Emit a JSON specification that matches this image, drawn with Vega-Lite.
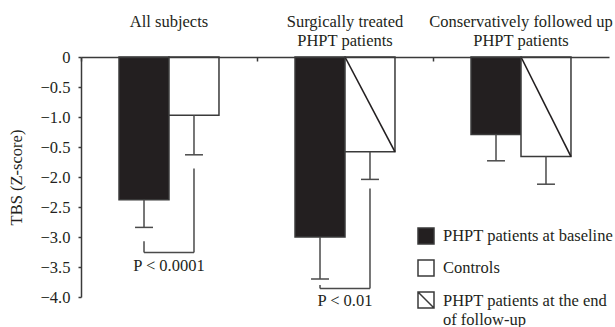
{
  "$schema": "https://vega.github.io/schema/vega-lite/v6.json",
  "width": 528,
  "height": 240,
  "autosize": {"type": "none"},
  "padding": {"left": 81, "top": 57, "right": 6, "bottom": 30},
  "background": "white",
  "config": {
    "view": {"stroke": null},
    "font": "Liberation Serif",
    "legend": {
      "orient": "none",
      "legendX": 336,
      "legendY": 170,
      "labelFont": "Liberation Serif",
      "labelFontSize": 16.5,
      "labelColor": "#231f20",
      "labelLimit": 400,
      "labelOffset": 8,
      "labelLineHeight": 17,
      "symbolStrokeColor": "#3a3a3a",
      "symbolStrokeWidth": 1.5,
      "symbolSize": 256,
      "rowPadding": 10
    }
  },
  "datasets": {
    "bars": [
      {"group": "All subjects", "series": "PHPT patients at baseline", "value": -2.38, "err": -2.84},
      {"group": "All subjects", "series": "Controls", "value": -0.97, "err": -1.63},
      {"group": "Surgically treated PHPT patients", "series": "PHPT patients at baseline", "value": -3.0, "err": -3.7},
      {"group": "Surgically treated PHPT patients", "series": "PHPT patients at the end of follow-up", "value": -1.58, "err": -2.04},
      {"group": "Conservatively followed up PHPT patients", "series": "PHPT patients at baseline", "value": -1.29, "err": -1.73},
      {"group": "Conservatively followed up PHPT patients", "series": "PHPT patients at the end of follow-up", "value": -1.66, "err": -2.12}
    ],
    "brackets": [
      {"group": "All subjects", "left_top": -3.07, "right_top": -1.86, "bottom": -3.26, "label": "P < 0.0001", "label_y": -3.48},
      {"group": "Surgically treated PHPT patients", "left_top": -3.8, "right_top": -2.19, "bottom": -3.86, "label": "P < 0.01", "label_y": -4.07}
    ]
  },
  "layer": [
    {
      "data": {"name": "bars"},
      "transform": [{"filter": "datum.series == 'PHPT patients at baseline'"}],
      "mark": {"type": "rect", "stroke": "#3a3a3a", "strokeWidth": 1.5},
      "encoding": {
        "x": {
          "field": "group", "type": "nominal", "bandPosition": 0.216,
          "scale": {"domain": ["All subjects", "Surgically treated PHPT patients", "Conservatively followed up PHPT patients"], "paddingInner": 0, "paddingOuter": 0},
          "axis": {
            "orient": "top", "title": null, "bandPosition": 0,
            "domainColor": "#3a3a3a", "domainWidth": 1.5,
            "tickColor": "#3a3a3a", "tickWidth": 1.5, "tickSize": -4,
            "labelFont": "Liberation Serif", "labelFontSize": 16.5, "labelColor": "#231f20",
            "labelAngle": 0, "labelBaseline": "top", "labelPadding": 48, "labelLineHeight": 19,
            "labelLimit": 400, "labelOverlap": false,
            "labelExpr": "datum.value == 'Surgically treated PHPT patients' ? ['Surgically treated', 'PHPT patients'] : datum.value == 'Conservatively followed up PHPT patients' ? ['Conservatively followed up', 'PHPT patients'] : datum.value"
          }
        },
        "x2": {"field": "group", "bandPosition": 0.5},
        "y": {
          "field": "value", "type": "quantitative",
          "scale": {"domain": [-4, 0], "nice": false},
          "axis": {
            "orient": "left", "title": "TBS (Z-score)", "grid": false,
            "values": [0, -0.5, -1, -1.5, -2, -2.5, -3, -3.5, -4],
            "tickCount": 12,
            "labelOverlap": false,
            "labelExpr": "datum.value == 0 ? '0' : datum.value == -1.5 ? '−0.5' : format(datum.value, '.1f')",
            "domainColor": "#3a3a3a", "domainWidth": 1.5,
            "tickColor": "#3a3a3a", "tickWidth": 1.5, "tickSize": 3,
            "labelFont": "Liberation Serif", "labelFontSize": 16.5, "labelColor": "#231f20",
            "labelPadding": 8,
            "titleFont": "Liberation Serif", "titleFontSize": 16.5, "titleFontWeight": "normal", "titleColor": "#231f20",
            "titlePadding": 16
          }
        },
        "y2": {"datum": 0},
        "fill": {
          "field": "series", "type": "nominal",
          "scale": {"domain": ["PHPT patients at baseline", "Controls", "PHPT patients at the end of follow-up"], "range": ["#231f20", "#ffffff", "#ffffff"]},
          "legend": {
            "title": null,
            "labelExpr": "datum.label == 'PHPT patients at the end of follow-up' ? ['PHPT patients at the end', 'of follow-up'] : datum.label",
            "encode": {"labels": {"update": {
              "baseline": {"signal": "datum.value == 'PHPT patients at the end of follow-up' ? 'top' : 'middle'"},
              "dy": {"signal": "datum.value == 'PHPT patients at the end of follow-up' ? -7 : 0"}
            }}}
          }
        }
      }
    },
    {
      "data": {"name": "bars"},
      "transform": [{"filter": "datum.series != 'PHPT patients at baseline'"}],
      "mark": {"type": "rect", "stroke": "#3a3a3a", "strokeWidth": 1.5},
      "encoding": {
        "x": {"field": "group", "type": "nominal", "bandPosition": 0.5, "scale": {"domain": ["All subjects", "Surgically treated PHPT patients", "Conservatively followed up PHPT patients"], "paddingInner": 0, "paddingOuter": 0}},
        "x2": {"field": "group", "bandPosition": 0.784},
        "y": {"field": "value", "type": "quantitative", "scale": {"domain": [-4, 0], "nice": false}},
        "y2": {"datum": 0},
        "fill": {
          "field": "series", "type": "nominal",
          "scale": {"domain": ["PHPT patients at baseline", "Controls", "PHPT patients at the end of follow-up"], "range": ["#231f20", "#ffffff", "#ffffff"]}
        }
      }
    },
    {
      "data": {"name": "bars"},
      "transform": [{"filter": "datum.series == 'PHPT patients at the end of follow-up'"}],
      "mark": {"type": "rule", "color": "#231f20", "strokeWidth": 1.6},
      "encoding": {
        "x": {"field": "group", "type": "nominal", "bandPosition": 0.784, "scale": {"domain": ["All subjects", "Surgically treated PHPT patients", "Conservatively followed up PHPT patients"], "paddingInner": 0, "paddingOuter": 0}},
        "x2": {"field": "group", "bandPosition": 0.5},
        "y": {"field": "value", "type": "quantitative", "scale": {"domain": [-4, 0], "nice": false}},
        "y2": {"datum": 0}
      }
    },
    {
      "data": {"name": "bars"},
      "transform": [{"filter": "datum.series == 'PHPT patients at baseline'"}],
      "mark": {"type": "rule", "color": "#4a4a4a", "strokeWidth": 1.5},
      "encoding": {
        "x": {"field": "group", "type": "nominal", "bandPosition": 0.358, "scale": {"domain": ["All subjects", "Surgically treated PHPT patients", "Conservatively followed up PHPT patients"], "paddingInner": 0, "paddingOuter": 0}},
        "y": {"field": "value", "type": "quantitative", "scale": {"domain": [-4, 0], "nice": false}},
        "y2": {"field": "err"}
      }
    },
    {
      "data": {"name": "bars"},
      "transform": [{"filter": "datum.series != 'PHPT patients at baseline'"}],
      "mark": {"type": "rule", "color": "#4a4a4a", "strokeWidth": 1.5},
      "encoding": {
        "x": {"field": "group", "type": "nominal", "bandPosition": 0.642, "scale": {"domain": ["All subjects", "Surgically treated PHPT patients", "Conservatively followed up PHPT patients"], "paddingInner": 0, "paddingOuter": 0}},
        "y": {"field": "value", "type": "quantitative", "scale": {"domain": [-4, 0], "nice": false}},
        "y2": {"field": "err"}
      }
    },
    {
      "data": {"name": "bars"},
      "transform": [{"filter": "datum.series == 'PHPT patients at baseline'"}],
      "mark": {"type": "rule", "color": "#4a4a4a", "strokeWidth": 1.5},
      "encoding": {
        "x": {"field": "group", "type": "nominal", "bandPosition": 0.307, "scale": {"domain": ["All subjects", "Surgically treated PHPT patients", "Conservatively followed up PHPT patients"], "paddingInner": 0, "paddingOuter": 0}},
        "x2": {"field": "group", "bandPosition": 0.409},
        "y": {"field": "err", "type": "quantitative", "scale": {"domain": [-4, 0], "nice": false}}
      }
    },
    {
      "data": {"name": "bars"},
      "transform": [{"filter": "datum.series != 'PHPT patients at baseline'"}],
      "mark": {"type": "rule", "color": "#4a4a4a", "strokeWidth": 1.5},
      "encoding": {
        "x": {"field": "group", "type": "nominal", "bandPosition": 0.591, "scale": {"domain": ["All subjects", "Surgically treated PHPT patients", "Conservatively followed up PHPT patients"], "paddingInner": 0, "paddingOuter": 0}},
        "x2": {"field": "group", "bandPosition": 0.693},
        "y": {"field": "err", "type": "quantitative", "scale": {"domain": [-4, 0], "nice": false}}
      }
    },
    {
      "data": {"name": "brackets"},
      "mark": {"type": "rule", "color": "#4a4a4a", "strokeWidth": 1.5},
      "encoding": {
        "x": {"field": "group", "type": "nominal", "bandPosition": 0.358, "scale": {"domain": ["All subjects", "Surgically treated PHPT patients", "Conservatively followed up PHPT patients"], "paddingInner": 0, "paddingOuter": 0}},
        "y": {"field": "left_top", "type": "quantitative", "scale": {"domain": [-4, 0], "nice": false}},
        "y2": {"field": "bottom"}
      }
    },
    {
      "data": {"name": "brackets"},
      "mark": {"type": "rule", "color": "#4a4a4a", "strokeWidth": 1.5},
      "encoding": {
        "x": {"field": "group", "type": "nominal", "bandPosition": 0.642, "scale": {"domain": ["All subjects", "Surgically treated PHPT patients", "Conservatively followed up PHPT patients"], "paddingInner": 0, "paddingOuter": 0}},
        "y": {"field": "right_top", "type": "quantitative", "scale": {"domain": [-4, 0], "nice": false}},
        "y2": {"field": "bottom"}
      }
    },
    {
      "data": {"name": "brackets"},
      "mark": {"type": "rule", "color": "#4a4a4a", "strokeWidth": 1.5},
      "encoding": {
        "x": {"field": "group", "type": "nominal", "bandPosition": 0.358, "scale": {"domain": ["All subjects", "Surgically treated PHPT patients", "Conservatively followed up PHPT patients"], "paddingInner": 0, "paddingOuter": 0}},
        "x2": {"field": "group", "bandPosition": 0.642},
        "y": {"field": "bottom", "type": "quantitative", "scale": {"domain": [-4, 0], "nice": false}}
      }
    },
    {
      "data": {"name": "brackets"},
      "mark": {"type": "text", "font": "Liberation Serif", "fontSize": 16.5, "color": "#231f20", "baseline": "middle", "align": "center"},
      "encoding": {
        "x": {"field": "group", "type": "nominal", "bandPosition": 0.5, "scale": {"domain": ["All subjects", "Surgically treated PHPT patients", "Conservatively followed up PHPT patients"], "paddingInner": 0, "paddingOuter": 0}},
        "y": {"field": "label_y", "type": "quantitative", "scale": {"domain": [-4, 0], "nice": false}},
        "text": {"field": "label"}
      }
    },
    {
      "data": {"name": "bars"},
      "transform": [{"filter": "false"}],
      "mark": {"type": "point", "filled": true},
      "encoding": {
        "fill": {
          "field": "series", "type": "nominal",
          "scale": {"domain": ["PHPT patients at baseline", "Controls", "PHPT patients at the end of follow-up"], "range": ["#231f20", "#ffffff", "#ffffff"]},
          "legend": {
            "title": null,
            "labelExpr": "datum.label == 'PHPT patients at the end of follow-up' ? ['PHPT patients at the end', 'of follow-up'] : datum.label",
            "encode": {"labels": {"update": {
              "baseline": {"signal": "datum.value == 'PHPT patients at the end of follow-up' ? 'top' : 'middle'"},
              "dy": {"signal": "datum.value == 'PHPT patients at the end of follow-up' ? -7 : 0"}
            }}}
          }
        },
        "shape": {
          "field": "series", "type": "nominal",
          "scale": {"domain": ["PHPT patients at baseline", "Controls", "PHPT patients at the end of follow-up"], "range": ["M-1,-1H1V1H-1Z", "M-1,-1H1V1H-1Z", "M-1,-1H1V1H-1Z M-1,-1L1,1"]},
          "legend": {
            "title": null,
            "labelExpr": "datum.label == 'PHPT patients at the end of follow-up' ? ['PHPT patients at the end', 'of follow-up'] : datum.label",
            "encode": {"labels": {"update": {
              "baseline": {"signal": "datum.value == 'PHPT patients at the end of follow-up' ? 'top' : 'middle'"},
              "dy": {"signal": "datum.value == 'PHPT patients at the end of follow-up' ? -7 : 0"}
            }}}
          }
        }
      }
    }
  ]
}
